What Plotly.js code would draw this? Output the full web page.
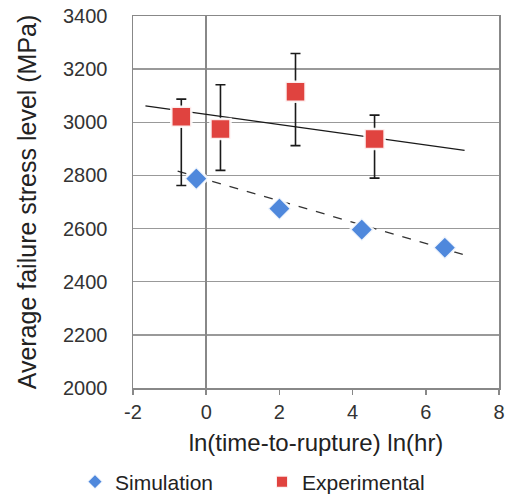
<!DOCTYPE html>
<html>
<head>
<meta charset="utf-8">
<script src="https://cdn.plot.ly/plotly-3.0.1.min.js"></script>
<style>html,body{margin:0;padding:0;background:#fff;}#chart{width:507px;height:495px;}</style>
</head>
<body>
<div id="chart"></div>
<script>
// Simulation data
const simX = [-0.27, 2.0, 4.25, 6.52];
const simY = [2788, 2675, 2596, 2528];
// Experimental data with asymmetric error bars
const expX = [-0.68, 0.39, 2.44, 4.6];
const expY = [3021, 2975, 3115, 2937];
const expErrPlus = [66, 166, 144, 90];
const expErrMinus = [259, 156, 203, 147];
// Trend lines (endpoints)
const simTrendX = [-0.78, 7.09];
const simTrendY = [2816, 2500];
const expTrendX = [-1.66, 7.06];
const expTrendY = [3062, 2894];
// Axis ticks
const xTicks = [-2, 0, 2, 4, 6, 8];
const yTicks = [2000, 2200, 2400, 2600, 2800, 3000, 3200, 3400];

const traces = [
  {x: expTrendX, y: expTrendY, mode: 'lines', line: {color: '#1a1a1a', width: 1.3}, showlegend: false, hoverinfo: 'skip'},
  {x: simTrendX, y: simTrendY, mode: 'lines', line: {color: '#333333', width: 1.3, dash: 'dash'}, showlegend: false, hoverinfo: 'skip'},
  {x: expX, y: expY, mode: 'markers', name: 'Experimental', legend: 'legend2',
   error_y: {type: 'data', symmetric: false, array: expErrPlus, arrayminus: expErrMinus, color: '#1a1a1a', thickness: 1.6, width: 5},
   marker: {symbol: 'square', size: 20, color: '#e0433f', line: {color: 'rgba(255,255,255,0.9)', width: 2.5}}},
  {x: simX, y: simY, mode: 'markers', name: 'Simulation', legend: 'legend',
   marker: {symbol: 'diamond', size: 18, color: '#4f88dc', line: {color: 'rgba(255,255,255,0.9)', width: 2.5}}}
];

const legendBase = {orientation: 'h', xref: 'container', yref: 'container', y: 13/495,
  xanchor: 'left', yanchor: 'middle', font: {size: 21, color: '#222'}, bgcolor: 'rgba(0,0,0,0)',
  borderwidth: 0, itemsizing: 'constant'};

const layout = {
  width: 507, height: 495,
  margin: {l: 133, r: 8, t: 16, b: 107},
  paper_bgcolor: '#fff', plot_bgcolor: '#fff',
  font: {family: 'Liberation Sans, Arial, sans-serif', color: '#222'},
  xaxis: {
    range: [-2, 8], tickvals: xTicks, ticktext: xTicks.map(String),
    showgrid: false, zeroline: true, zerolinecolor: '#888', zerolinewidth: 1.5,
    showline: true, linecolor: '#888', linewidth: 1.5, mirror: true,
    ticks: 'outside', ticklen: 5, tickcolor: '#888', tickwidth: 1.5,
    tickfont: {size: 20, color: '#333'},
    title: {text: 'ln(time-to-rupture) ln(hr)', font: {size: 24, color: '#222'}, standoff: 12}
  },
  yaxis: {
    range: [2000, 3400], tickvals: yTicks, ticktext: yTicks.map(String),
    showgrid: true, gridcolor: '#999', gridwidth: 1.5, zeroline: false,
    showline: true, linecolor: '#888', linewidth: 1.5, mirror: true,
    ticks: '', ticklabelstandoff: 20,
    tickfont: {size: 20, color: '#333'},
    title: {text: 'Average failure stress level (MPa)', font: {size: 25, color: '#222'}, standoff: 19}
  },
  showlegend: true,
  legend: Object.assign({}, legendBase, {x: 75/507}),
  legend2: Object.assign({}, legendBase, {x: 262/507})
};

Plotly.newPlot('chart', traces, layout, {displayModeBar: false, staticPlot: true});
</script>
</body>
</html>
